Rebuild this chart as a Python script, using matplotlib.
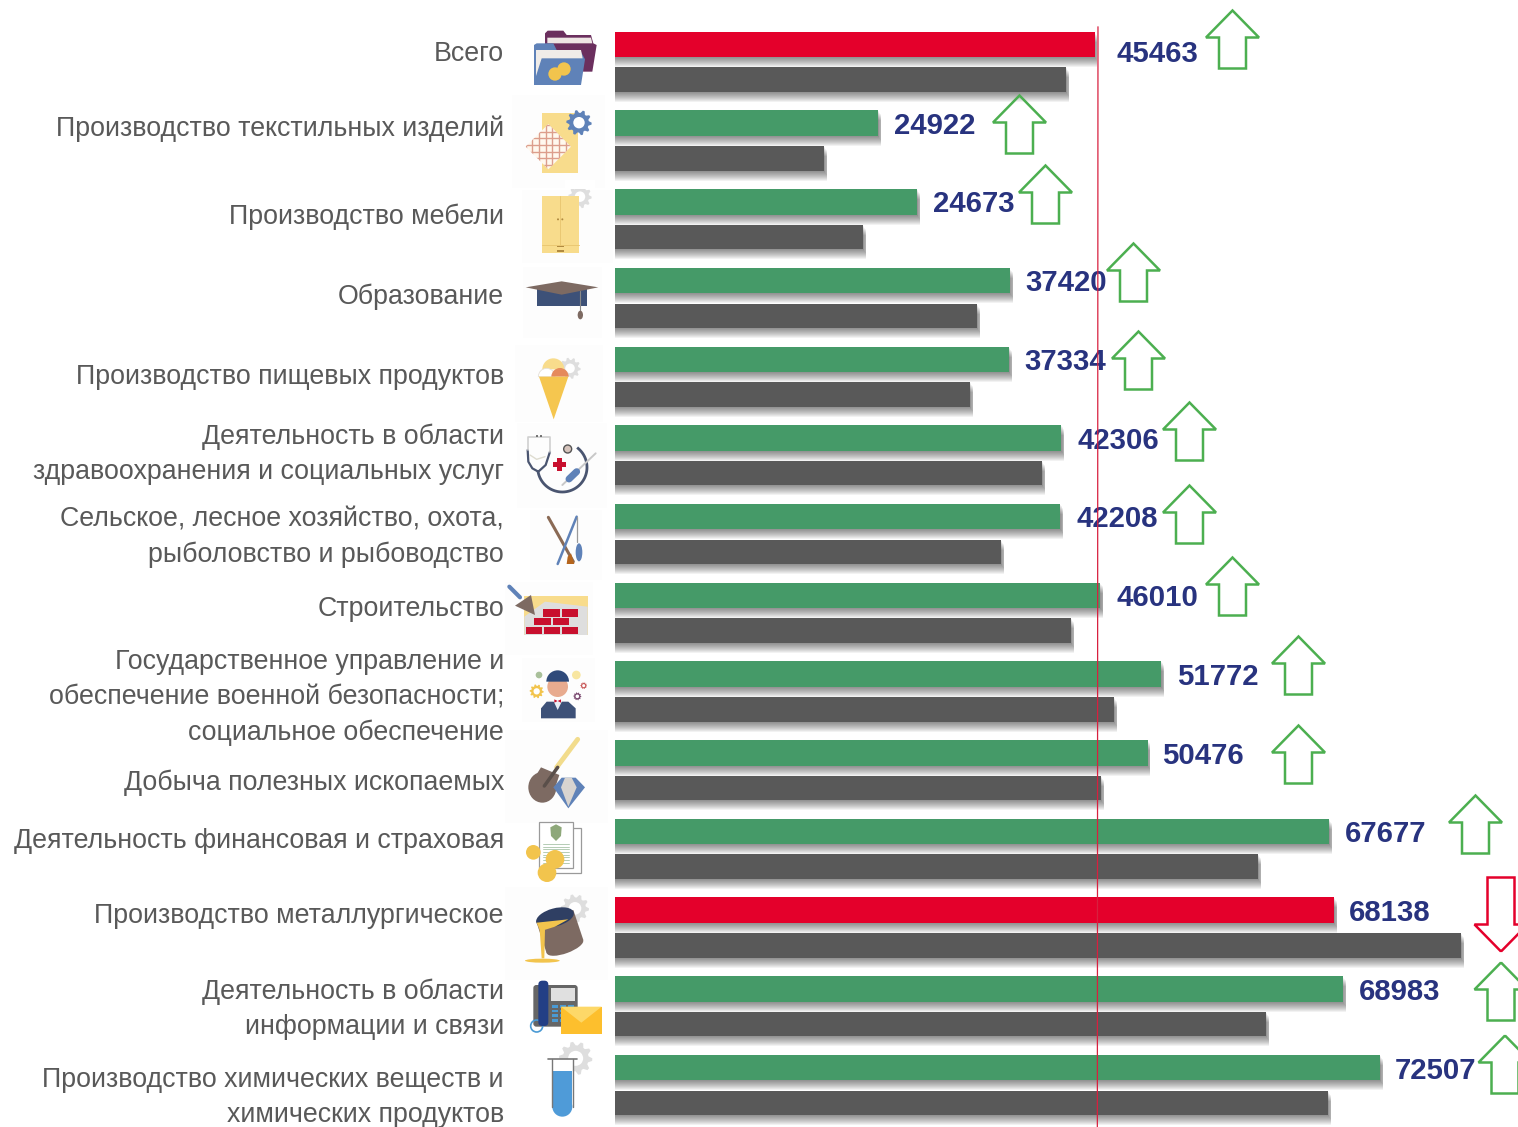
"""Russian wage by industry chart: bars, arrows and small hand-drawn icons."""

import numpy as np
import matplotlib
matplotlib.use('Agg')
import matplotlib.pyplot as plt
from matplotlib.patches import Polygon, Circle, Ellipse, Rectangle, Wedge, FancyBboxPatch

plt.rcParams['font.family'] = ['Liberation Sans', 'DejaVu Sans']

# Data
categories = [
    'Всего',
    'Производство текстильных изделий',
    'Производство мебели',
    'Образование',
    'Производство пищевых продуктов',
    'Деятельность в области\nздравоохранения и социальных услуг',
    'Сельское, лесное хозяйство, охота,\nрыболовство и рыбоводство',
    'Строительство',
    'Государственное управление и\nобеспечение военной безопасности;\nсоциальное обеспечение',
    'Добыча полезных ископаемых',
    'Деятельность финансовая и страховая',
    'Производство металлургическое',
    'Деятельность в области\nинформации и связи',
    'Производство химических веществ и\nхимических продуктов',
]
value_labels = [45463, 24922, 24673, 37420, 37334, 42306, 42208, 46010, 51772, 50476, 67677, 68138, 68983, 72507]
# the furniture bar is drawn longer than its printed number in the original
current = [45463, 24922, 28630, 37420, 37334, 42306, 42208, 46010, 51772, 50476, 67677, 68138, 68983, 72507]
previous = [42750, 19810, 23510, 34310, 33650, 40470, 36590, 43220, 47300, 46070, 60950, 80190, 61710, 67580]
bar_kind = ['red', 'green', 'green', 'green', 'green', 'green', 'green', 'green', 'green', 'green', 'green', 'red', 'green', 'green']
arrow_dir = ['up', 'up', 'up', 'up', 'up', 'up', 'up', 'up', 'up', 'up', 'up', 'down', 'up', 'up']
reference_line = 45780

# Layout, in pixels of the 1518x1127 picture
PX_PER_UNIT = 0.01055
X0 = 615
ROW0 = 44.5
ROW_STEP = 78.7
GRAY_OFFSET = 35.2
label_y = [54, 129, 217, 297, 377, 454.5, 537, 609, 697.5, 783, 841, 916, 1009.5, 1097.5]
value_y = [54, 126, 204, 283, 362, 441, 519, 598, 677, 756, 834, 913, 992, 1071]
value_gap = [22, 16, 16, 16, 16, 16, 16, 16, 16, 15, 16, 15, 16, 15]
arrow_x = [1232.5, 1019.5, 1045.5, 1133.5, 1138.5, 1189.5, 1189.5, 1232.5, 1298.5, 1298.5, 1475.5, 1501, 1501, 1505]
arrow_top = [10.5, 95.5, 165.5, 243.5, 331.5, 402.5, 485.5, 557.5, 636.5, 725.5, 795.5, 877.5, 962.5, 1035.5]

colors = {'red': '#e4002b', 'green': '#459a68'}
GRAY = '#595959'
NAVY = '#28337f'
TAN = '#f8dc8c'
GOLD = '#f2c44d'
STEEL = '#5f82b8'
UMBER = '#7d6a62'
SLATE = '#3d5178'
LGRAY = '#dedede'
BRICK = '#c8102e'

fig = plt.figure(figsize=(15.18, 11.27), dpi=100, facecolor='white')

# Bars live in value / row units
ax = fig.add_axes([0, 0, 1, 1])
ax.set_xlim(-X0 / PX_PER_UNIT, (1518 - X0) / PX_PER_UNIT)
ax.set_ylim((1127 - ROW0) / ROW_STEP, -ROW0 / ROW_STEP)
ax.axis('off')

rows = np.arange(len(categories))
bar_h = 25.5 / ROW_STEP
gray_h = 24.5 / ROW_STEP
gray_pos = rows + GRAY_OFFSET / ROW_STEP

# soft shadows under the bars
for k in range(1, 11):
    dy = k / ROW_STEP
    dx = min(k, 4) * 0.7 / PX_PER_UNIT
    for vals, pos, h in [(current, rows, bar_h), (previous, gray_pos, gray_h)]:
        ax.barh(pos + dy, np.array(vals) + dx, height=h, color='black', alpha=0.05, lw=0, zorder=1)

ax.barh(rows, current, height=bar_h, color=[colors[k] for k in bar_kind], lw=0, zorder=2)
ax.barh(gray_pos, previous, height=gray_h, color=GRAY, lw=0, zorder=2)

# Overlay in picture pixels for text, arrows and icons
ov = fig.add_axes([0, 0, 1, 1])
ov.set_xlim(0, 1518)
ov.set_ylim(1127, 0)
ov.axis('off')
ov.patch.set_alpha(0)

for name, y in zip(categories, label_y):
    ov.text(504, y, name, ha='right', va='center', ma='right', fontsize=19.25, color=GRAY, linespacing=1.45, zorder=5)

for val, end, y, gap in zip(value_labels, current, value_y, value_gap):
    ov.text(X0 + end * PX_PER_UNIT + gap, y, str(val), ha='left', va='center', fontsize=21.2,
            fontweight='bold', color=NAVY, zorder=5)


def arrow(x, top, direction):
    w, shaft, head, h = 26.5, 13.5, 27, 58
    if direction == 'up':
        pts = [(x, top), (x + w, top + head), (x + shaft, top + head), (x + shaft, top + h),
               (x - shaft, top + h), (x - shaft, top + head), (x - w, top + head)]
        col = '#4caf50'
    else:
        h = 74
        pts = [(x, top + h), (x + w, top + h - head), (x + shaft, top + h - head), (x + shaft, top),
               (x - shaft, top), (x - shaft, top + h - head), (x - w, top + h - head)]
        col = colors['red']
    ov.add_patch(Polygon(pts, closed=True, fill=False, ec=col, lw=1.8, zorder=6))


for x, top, d in zip(arrow_x, arrow_top, arrow_dir):
    arrow(x, top, d)

# red reference line goes over bars and numbers
ov.plot([X0 + reference_line * PX_PER_UNIT, X0 + (reference_line - 60) * PX_PER_UNIT], [27, 1127],
        color='#d8203f', lw=0.9, zorder=7)


# Icons: coordinates below are taken from a 3x crop, origin o
def P(o, x, y):
    return o[0] + x / 3, o[1] + y / 3


def poly(o, pts, color, z=4, **kw):
    p = Polygon([P(o, *q) for q in pts], closed=True, fc=color, ec='none', zorder=z, **kw)
    ov.add_patch(p)
    return p


def rect(o, x0, y0, x1, y1, color, z=4, **kw):
    x, y = P(o, x0, y0)
    p = Rectangle((x, y), (x1 - x0) / 3, (y1 - y0) / 3, fc=color, ec=kw.pop('ec', 'none'), zorder=z, **kw)
    ov.add_patch(p)
    return p


def circ(o, x, y, r, color, z=4, **kw):
    kw.setdefault('ec', 'none')
    p = Circle(P(o, x, y), r / 3, fc=color, zorder=z, **kw)
    ov.add_patch(p)
    return p


def line(o, pts, color, lw=1.5, z=4):
    xy = [P(o, *q) for q in pts]
    return ov.plot([q[0] for q in xy], [q[1] for q in xy], color=color, lw=lw, zorder=z, solid_capstyle='round')[0]


def gear(o, x, y, r, color, z=4, teeth=10, hole='white'):
    t = np.linspace(0, 2 * np.pi, teeth * 4, endpoint=False)
    rad = np.where(np.arange(teeth * 4) % 4 < 2, r, r * 0.78)
    pts = list(zip(x + rad * np.cos(t), y + rad * np.sin(t)))
    poly(o, pts, color, z)
    circ(o, x, y, r * 0.45, hole, z)


def ellipse(o, x, y, rx, ry, color, angle=0, z=4):
    ov.add_patch(Ellipse(P(o, x, y), 2 * rx / 3, 2 * ry / 3, angle=angle, fc=color, ec='none', zorder=z))


Z1 = (505, 0)
Z2 = (505, 340)
Z3 = (505, 730)

# faint white-grey boxes behind the icons
for o, x0, y0, x1, y1 in [(Z1, 20, 285, 300, 565), (Z1, 50, 570, 325, 790), (Z1, 55, 800, 290, 1015),
                          (Z2, 30, 15, 295, 245), (Z2, 35, 250, 305, 505), (Z2, 75, 510, 290, 720),
                          (Z2, 0, 725, 265, 945), (Z2, 50, 955, 270, 1145), (Z3, 0, 0, 310, 280),
                          (Z3, 0, 470, 310, 750)]:
    rect(o, x0, y0, x1, y1, '#fdfdfd', z=0)

# folders
poly(Z1, [(120, 100), (128, 92), (175, 92), (185, 105), (258, 105), (265, 130), (275, 135), (262, 215),
          (235, 215), (120, 135)], '#6b2f5e')
poly(Z1, [(127, 113), (258, 113), (262, 130), (127, 130)], '#eee6e4')
poly(Z1, [(87, 135), (95, 130), (145, 130), (155, 150), (225, 150), (240, 178), (228, 255), (87, 255)], STEEL)
poly(Z1, [(93, 150), (228, 150), (233, 175), (110, 175), (93, 228)], '#f0ece8')
circ(Z1, 150, 222, 20, GOLD)
circ(Z1, 177, 207, 20, GOLD)

# textile
rect(Z1, 110, 338, 218, 518, TAN)
diamond = poly(Z1, [(62, 440), (130, 372), (198, 440), (130, 508)], '#fff8ee')
for g in np.arange(62, 200, 20):
    line(Z1, [(g, 370), (g, 510)], '#dc9e8c', 1.0).set_clip_path(diamond)
for g in np.arange(375, 510, 20):
    line(Z1, [(60, g), (200, g)], '#dc9e8c', 1.0).set_clip_path(diamond)
gear(Z1, 222, 368, 38, STEEL)

# wardrobe
gear(Z1, 225, 590, 35, LGRAY)
rect(Z1, 180, 540, 270, 567, 'white', z=4)
rect(Z1, 110, 587, 222, 760, TAN)
line(Z1, [(166, 587), (166, 735)], '#eac873', 0.7)
line(Z1, [(110, 735), (222, 735)], '#eac873', 0.7)
rect(Z1, 156, 737, 176, 742, '#b08a40')
rect(Z1, 156, 751, 176, 756, '#b08a40')
circ(Z1, 159, 658, 3, '#b08a40')
circ(Z1, 172, 658, 3, '#b08a40')

# graduation cap
rect(Z1, 96, 868, 246, 917, SLATE)
poly(Z1, [(62, 862), (170, 844), (280, 862), (170, 884)], UMBER)
line(Z1, [(226, 872), (226, 935)], '#8a8a8a', 0.8)
ellipse(Z1, 226, 945, 8, 13, UMBER)

# ice cream
gear(Z2, 195, 85, 32, LGRAY)
ov.add_patch(Wedge(P(Z2, 145, 88), 33 / 3, 180, 360, fc=TAN, ec='none', zorder=4))
ov.add_patch(Wedge(P(Z2, 125, 110), 25 / 3, 180, 360, fc='white', ec='#e5e0d8', lw=0.6, zorder=4))
ov.add_patch(Wedge(P(Z2, 165, 110), 26 / 3, 180, 360, fc='#e58a5c', ec='none', zorder=4))
poly(Z2, [(102, 110), (190, 110), (146, 238)], '#f5c64f')

# stethoscope
t = np.linspace(np.radians(170), np.radians(-50), 50)
ov.plot(505 + (172 + 74 * np.cos(t)) / 3, 340 + (382 + 74 * np.sin(t)) / 3, color='#4a5570', lw=2.0, zorder=4)
line(Z2, [(68, 330), (70, 365), (82, 385), (100, 395), (122, 375), (135, 335)], '#4a5570', 1.6)
line(Z2, [(68, 330), (68, 290), (135, 290), (135, 335)], '#d0d0d0', 1.2)
line(Z2, [(75, 345), (95, 358), (120, 350)], '#dedcd0', 1.0)
circ(Z2, 96, 288, 3, '#555555')
circ(Z2, 108, 288, 3, '#555555')
circ(Z2, 188, 327, 12, '#d6c4bc', ec='#555555', lw=1.0)
rect(Z2, 145, 366, 182, 381, BRICK)
rect(Z2, 156, 355, 171, 392, BRICK)
line(Z2, [(172, 435), (272, 340)], '#c8c8c8', 1.4)
line(Z2, [(192, 417), (215, 395)], STEEL, 5)

# fishing
line(Z2, [(130, 532), (205, 665)], '#8a6a55', 2.2)
line(Z2, [(215, 530), (158, 672)], STEEL, 1.8)
line(Z2, [(215, 530), (215, 605)], '#9a9a9a', 0.9)
ellipse(Z2, 222, 637, 10, 27, STEEL)
poly(Z2, [(188, 650), (198, 640), (208, 672), (185, 672)], '#b5651d')

# bricks
rect(Z2, 58, 768, 248, 885, TAN)
poly(Z2, [(58, 830), (120, 785), (248, 800), (248, 885), (58, 885)], LGRAY)
for y0, y1, spans in [(808, 830, [(115, 165), (170, 218)]), (835, 856, [(88, 138), (143, 192)]),
                      (860, 882, [(62, 112), (116, 165), (170, 218)])]:
    for x0, x1 in spans:
        rect(Z2, x0, y0, x1, y1, BRICK)
poly(Z2, [(30, 797), (78, 765), (90, 825)], UMBER)
line(Z2, [(13, 740), (45, 772)], STEEL, 3)

# clerk
poly(Z2, [(108, 1135), (108, 1105), (125, 1085), (190, 1085), (212, 1105), (212, 1135)], SLATE)
poly(Z2, [(145, 1082), (172, 1082), (158, 1110)], '#e8eef5')
circ(Z2, 158, 1040, 31, '#e8ab8f')
ov.add_patch(Wedge(P(Z2, 158, 1025), 34 / 3, 180, 360, fc='#2f4a7a', ec='none', zorder=4))
poly(Z2, [(148, 1078), (168, 1088), (168, 1078), (148, 1088)], BRICK)
circ(Z2, 102, 1005, 10, '#a9c09a')
circ(Z2, 214, 1005, 13, '#f8e6a0')
gear(Z2, 236, 1037, 10, '#c85a5a')
gear(Z2, 217, 1069, 12, '#7a4a70')
gear(Z2, 95, 1054, 21, GOLD)

# shovel and diamond
line(Z3, [(155, 112), (218, 28)], '#f2dc8c', 3.5)
ellipse(Z3, 112, 172, 42, 46, UMBER)
poly(Z3, [(108, 112), (163, 135), (145, 190), (90, 200), (72, 170)], UMBER)
line(Z3, [(118, 168), (158, 112)], '#5a4f4a', 2.5)
poly(Z3, [(145, 172), (170, 143), (212, 143), (240, 172), (190, 235)], STEEL)
poly(Z3, [(168, 172), (180, 143), (200, 143), (215, 172), (190, 230)], '#d8d4d0')

# document and coins
rect(Z3, 120, 295, 228, 430, 'white', ec='#9a9a9a', lw=0.9)
rect(Z3, 103, 276, 205, 415, 'white', ec='#9a9a9a', lw=0.9)
poly(Z3, [(136, 292), (153, 283), (170, 292), (168, 318), (153, 333), (138, 318)], '#8ea87a')
for g in range(342, 400, 8):
    line(Z3, [(115, g), (192, g)], '#a8c4a8', 0.6)
circ(Z3, 85, 367, 22, GOLD)
circ(Z3, 150, 388, 28, GOLD)
circ(Z3, 126, 428, 28, GOLD)

# crucible
gear(Z3, 210, 535, 42, LGRAY)
poly(Z3, [(93, 572), (205, 540), (235, 630), (125, 670)], UMBER)
ellipse(Z3, 180, 650, 58, 20, UMBER, angle=-20)
ellipse(Z3, 150, 562, 58, 27, '#2f3f63', angle=-15)
poly(Z3, [(95, 578), (190, 568), (150, 590), (118, 600), (104, 600)], GOLD)
poly(Z3, [(104, 598), (120, 598), (118, 685), (110, 685)], GOLD)
ellipse(Z3, 112, 692, 52, 6, GOLD)

# phone and envelope
ov.add_patch(FancyBboxPatch(P(Z3, 85, 765), 133 / 3, 125 / 3, boxstyle='round,pad=0,rounding_size=3',
                            fc='#666666', ec='none', zorder=4))
rect(Z3, 138, 775, 210, 812, '#e0e0e0')
for ky in range(825, 880, 14):
    for kx in (140, 165, 190):
        rect(Z3, kx, ky, kx + 18, ky + 8, '#4a9ad4')
circ(Z3, 95, 888, 18, 'none', ec='#4a9ad4', lw=1.2)
ov.add_patch(FancyBboxPatch(P(Z3, 100, 752), 30 / 3, 136 / 3, boxstyle='round,pad=0,rounding_size=4',
                            fc='#233f85', ec='none', zorder=4))
rect(Z3, 168, 830, 290, 912, '#fdbf2d')
poly(Z3, [(168, 830), (290, 830), (229, 878)], '#fdd868')

# test tube
gear(Z3, 212, 985, 50, LGRAY)
rect(Z3, 141, 988, 204, 1130, 'white', ec='none')
rect(Z3, 143, 1022, 202, 1130, '#4f9bd8')
circ(Z3, 172, 1130, 30, '#4f9bd8')
line(Z3, [(141, 988), (141, 1130)], '#777777', 1.0)
line(Z3, [(204, 988), (204, 1130)], '#777777', 1.0)
line(Z3, [(130, 988), (215, 988)], '#777777', 1.2)

fig.savefig('out.png', dpi=100)
